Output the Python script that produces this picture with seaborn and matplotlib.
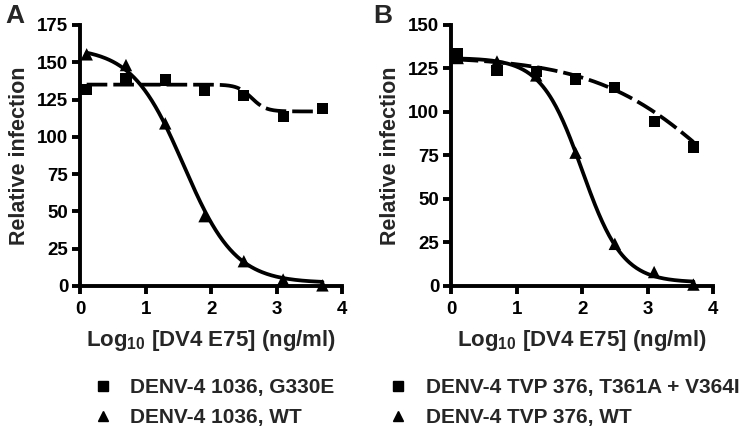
import numpy as np
import pandas as pd
import matplotlib
matplotlib.use("Agg")
import matplotlib.pyplot as plt
import seaborn as sns
from matplotlib.lines import Line2D

# data
dose_log = [0.1, 0.7, 1.3, 1.9, 2.5, 3.1, 3.7]

a_mut = [131.8, 138.7, 138.1, 130.9, 127.6, 113.5, 119.1]
a_wt = [155.3, 148.1, 109.0, 46.8, 16.6, 4.3, 0.4]
b_mut = [133.8, 123.7, 123.3, 118.9, 114.2, 94.3, 79.9]
b_mut_extra = [130.6]
b_wt = [131.0, 129.0, 121.0, 76.6, 24.2, 8.0, 0.8]

# 4PL fit parameters (top, bottom, logEC50, hill) estimated from the curves
fit_a_mut = [135.0, 117.0, 2.62, 4.0]
fit_a_wt = [160.0, 2.0, 1.58, 1.1]
fit_b_mut = [132.0, 0.0, 4.2, 0.45]
fit_b_wt = [131.0, 2.0, 2.0, 1.4]

labels_a = ["DENV-4 1036, G330E", "DENV-4 1036, WT"]
labels_b = ["DENV-4 TVP 376, T361A + V364I", "DENV-4 TVP 376, WT"]

sns.set_style("ticks")
plt.rcParams['font.family'] = ['Liberation Sans', 'DejaVu Sans']
plt.rcParams['font.weight'] = 'bold'
plt.rcParams['axes.labelweight'] = 'bold'
plt.rcParams['mathtext.fontset'] = 'custom'
plt.rcParams['mathtext.rm'] = 'Liberation Sans:bold'
plt.rcParams['mathtext.default'] = 'rm'


def curve(p, x):
    top, bottom, ec, h = p
    return bottom + (top - bottom) / (1 + 10 ** ((x - ec) * h))


xs = np.linspace(0.1, 3.7, 200)

fig = plt.figure(figsize=(7.42, 4.30), dpi=100)
ax_a = fig.add_axes([0.108, 0.335, 0.353, 0.607])
ax_b = fig.add_axes([0.608, 0.335, 0.353, 0.607])

panels = [
    (ax_a, a_mut, a_wt, fit_a_mut, fit_a_wt, 175, labels_a, "A", 0.125, 0.020),
    (ax_b, b_mut, b_wt, fit_b_mut, fit_b_wt, 150, labels_b, "B", 0.523, 0.516),
]

for ax, mut, wt, fmut, fwt, ymax, labs, letter, leg_x, let_x in panels:
    df_fit = pd.DataFrame({"x": xs, "mut": curve(fmut, xs), "wt": curve(fwt, xs)})
    sns.lineplot(data=df_fit, x="x", y="wt", ax=ax, color="black", lw=2.7)
    sns.lineplot(data=df_fit, x="x", y="mut", ax=ax, color="black", lw=2.7)
    ax.lines[-1].set_dashes([5.5, 1.6])
    ax.lines[-1].set_dash_capstyle('butt')
    pts = pd.DataFrame({"x": dose_log, "mut": mut, "wt": wt})
    sns.scatterplot(data=pts, x="x", y="mut", ax=ax, marker="s", color="black",
                    s=65, edgecolor="none", clip_on=False, zorder=5)
    sns.scatterplot(data=pts, x="x", y="wt", ax=ax, marker="^", color="black",
                    s=80, edgecolor="none", clip_on=False, zorder=5)
    if letter == "B":
        sns.scatterplot(x=[dose_log[0]], y=b_mut_extra, ax=ax, marker="s",
                        color="black", s=65, edgecolor="none", clip_on=False, zorder=5)

    ax.set_xlim(0, 4)
    ax.set_ylim(0, ymax)
    ax.set_xticks([0, 1, 2, 3, 4])
    ax.set_yticks(np.arange(0, ymax + 1, 25))
    sns.despine(ax=ax)
    for s in ["left", "bottom"]:
        ax.spines[s].set_linewidth(2.8)
        ax.spines[s].set_color("black")
    ax.tick_params(width=2.8, length=6, labelsize=13.5, colors="black", pad=2.5)
    ax.tick_params(axis="x", pad=5)
    for t in ax.get_xticklabels() + ax.get_yticklabels():
        t.set_fontweight("bold")
    ax.set_xlabel(r"Log$_{10}$ [DV4 E75] (ng/ml)", fontsize=16, labelpad=7)
    ax.set_ylabel("Relative infection", fontsize=15.5, labelpad=5)
    fig.text(let_x, 0.962, letter, fontsize=19, fontweight="bold",
             va="center", ha="center")

    handles = [
        Line2D([], [], marker="s", color="black", ls="none", markersize=7),
        Line2D([], [], marker="^", color="black", ls="none", markersize=7.5),
    ]
    leg = fig.legend(handles, labs, loc="upper left", bbox_to_anchor=(leg_x, 0.12),
                     bbox_transform=fig.transFigure, frameon=False, fontsize=15,
                     handlelength=1.0, handletextpad=0.8, labelspacing=0.5,
                     borderpad=0, borderaxespad=0)
    for t in leg.get_texts():
        t.set_fontweight("bold")

fig.savefig("out.png", dpi=100)
